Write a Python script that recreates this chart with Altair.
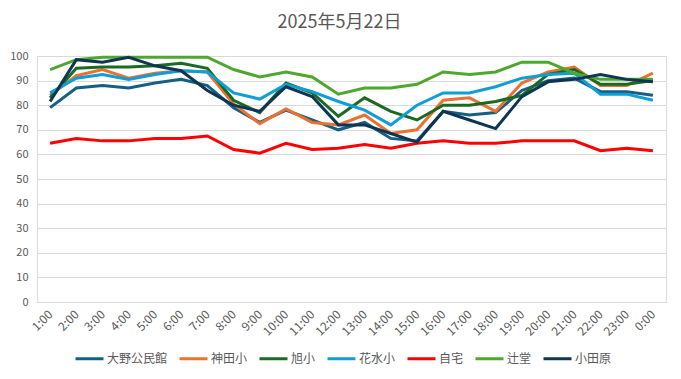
import altair as alt
import pandas as pd

hours = ["1:00", "2:00", "3:00", "4:00", "5:00", "6:00", "7:00", "8:00", "9:00", "10:00",
         "11:00", "12:00", "13:00", "14:00", "15:00", "16:00", "17:00", "18:00", "19:00",
         "20:00", "21:00", "22:00", "23:00", "0:00"]

names = ["大野公民館", "神田小", "旭小", "花水小", "自宅", "辻堂", "小田原"]
colors = ["#156082", "#E97132", "#196B24", "#0F9ED5", "#FF0000", "#4EA72E", "#0E3552"]

oono = [79, 87, 88, 87, 89, 90.5, 88, 79, 73, 78, 74, 70, 73, 66.5, 65.5, 77.5, 76, 77, 86, 90, 91, 85.5, 85.5, 84]
kanda = [84, 92, 94.5, 91, 93, 94, 93.5, 80.5, 72.5, 78.5, 73, 72, 76, 68.5, 70, 82, 83, 77.5, 89, 93.5, 95.5, 88, 88, 93]
asahi = [83, 95, 95.5, 95.5, 96, 97, 95, 82, 77, 89, 85, 75.5, 83, 77.5, 74, 80, 80, 81.5, 84, 92.5, 94.5, 88.5, 88.5, 90]
hanamizu = [85, 91, 92.5, 90.5, 92.5, 94, 93.5, 85, 82.5, 88.5, 85.5, 81.5, 78, 72, 80, 85, 85, 87.5, 91, 92.5, 93, 84.5, 84.5, 82]
jitaku = [64.5, 66.5, 65.5, 65.5, 66.5, 66.5, 67.5, 62, 60.5, 64.5, 62, 62.5, 64, 62.5, 64.5, 65.5, 64.5, 64.5, 65.5, 65.5, 65.5, 61.5, 62.5, 61.5]
tsujido = [94.5, 98.5, 99.5, 99.5, 99.5, 99.5, 99.5, 94.5, 91.5, 93.5, 91.5, 84.5, 87, 87, 88.5, 93.5, 92.5, 93.5, 97.5, 97.5, 93, 90.5, 90.5, 90.5]
odawara = [81.5, 98.5, 97.5, 99.5, 96, 94, 86, 80, 77.5, 87.5, 83.5, 72, 72, 68.5, 65, 77.5, 74, 70.5, 83.5, 89.5, 90.5, 92.5, 90.5, 89.5]

series = [oono, kanda, asahi, hanamizu, jitaku, tsujido, odawara]

rows = []
for name, vals in zip(names, series):
    for h, v in zip(hours, vals):
        rows.append({"time": h, "series": name, "value": v})
df = pd.DataFrame(rows)

FONT = "Noto Sans CJK JP"
GRAY = "#595959"

chart = alt.Chart(df).mark_line(strokeWidth=3, strokeJoin="miter").encode(
    x=alt.X("time:N", sort=hours, title=None,
            axis=alt.Axis(labelAngle=-45, labelAlign="right", labelBaseline="middle",
                          labelFontSize=12, labelColor=GRAY, labelFont=FONT,
                          ticks=False, domain=False, grid=False, labelPadding=10)),
    y=alt.Y("value:Q", title=None,
            scale=alt.Scale(domain=[0, 100], nice=False),
            axis=alt.Axis(values=list(range(0, 101, 10)), labelFontSize=11,
                          labelColor=GRAY, labelFont=FONT, ticks=False, domain=False,
                          grid=True, gridColor="#D9D9D9", gridWidth=1, labelPadding=9)),
    color=alt.Color("series:N", sort=names, title=None,
                    scale=alt.Scale(domain=names, range=colors),
                    legend=alt.Legend(orient="none", direction="horizontal",
                                      legendX=37, legendY=287,
                                      symbolType="stroke", symbolSize=784,
                                      symbolStrokeWidth=3, labelFontSize=12,
                                      labelColor=GRAY, labelFont=FONT,
                                      labelOffset=2, columnPadding=5, padding=0)),
    order=alt.Order("series:N"),
).properties(
    width=629,
    height=246,
    title=alt.TitleParams("2025年5月22日", fontSize=18, font=FONT, color=GRAY,
                          fontWeight="normal", anchor="middle", dx=-12, offset=18),
    autosize=alt.AutoSizeParams(type="none"),
    padding={"left": 29, "top": 48, "right": 6, "bottom": 68},
).configure_view(stroke=None).configure(background="white")

chart.save("out.html", embed_options={"renderer": "svg", "actions": False})
